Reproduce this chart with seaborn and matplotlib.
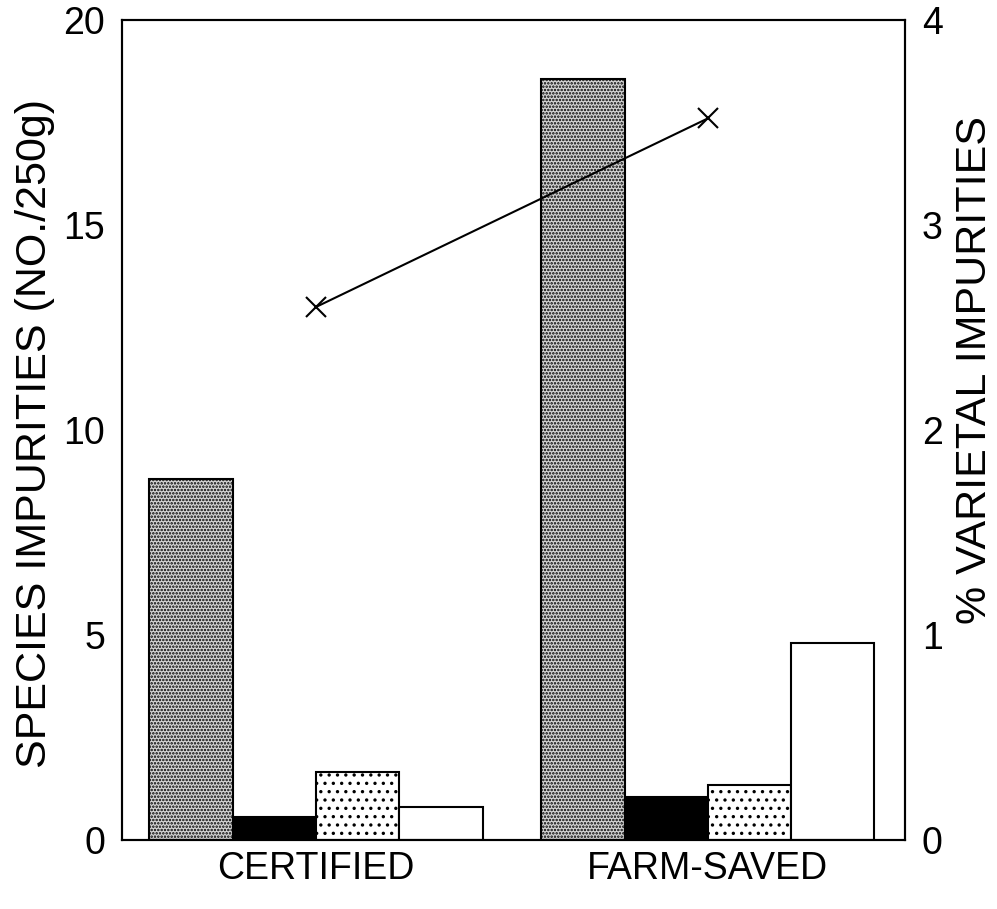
import matplotlib
matplotlib.use("Agg")
import matplotlib.pyplot as plt
import seaborn as sns
import pandas as pd

# Seed lots and impurity classes
lots = ["CERTIFIED", "FARM-SAVED"]
classes = ["A", "B", "C", "D"]

# Species impurities (no./250 g) per class, per lot
certified_species = [8.8, 0.55, 1.65, 0.8]
farm_species = [18.55, 1.05, 1.35, 4.8]

# Varietal impurities (%) per lot
varietal_pct = [2.6, 3.52]

left_ticks = [0, 5, 10, 15, 20]
right_ticks = [0, 1, 2, 3, 4]

df = pd.DataFrame({
    "lot": [lots[0]] * 4 + [lots[1]] * 4,
    "cls": classes * 2,
    "value": certified_species + farm_species,
})

sns.set_theme(style="white")
plt.rcParams["font.family"] = ["Liberation Sans", "DejaVu Sans"]
plt.rcParams["hatch.linewidth"] = 1.2
plt.rcParams["text.color"] = "black"
plt.rcParams["axes.labelcolor"] = "black"
plt.rcParams["xtick.color"] = "black"
plt.rcParams["ytick.color"] = "black"

fig = plt.figure(figsize=(9.97, 9.09), dpi=100)
ax = fig.add_axes([0.1224, 0.076, 0.7853, 0.902])

sns.barplot(data=df, x="lot", y="value", hue="cls", hue_order=classes,
            order=lots, width=0.85, ax=ax, legend=False,
            edgecolor="black", linewidth=1.5, saturation=1)

styles = {
    "A": dict(face="#d4d4d4", hatch="....."),
    "B": dict(face="black", hatch=None),
    "C": dict(face="white", hatch=".."),
    "D": dict(face="white", hatch=None),
}
for cont, cls in zip(ax.containers, classes):
    for bar in cont:
        bar.set_facecolor(styles[cls]["face"])
        bar.set_edgecolor("black")
        if styles[cls]["hatch"]:
            bar.set_hatch(styles[cls]["hatch"])

ax.set_xlim(-0.495, 1.503)
ax.set_ylim(0, 20)
ax.set_yticks(left_ticks)
ax.set_yticklabels([str(t) for t in left_ticks])
ax.set_xlabel("")
ax.set_ylabel("SPECIES IMPURITIES (NO./250g)", fontsize=31)
ax.yaxis.set_label_coords(-0.086, 0.496)
ax.tick_params(axis="both", length=0, labelsize=27, pad=12)
ax.tick_params(axis="x", pad=8)

ax2 = ax.twinx()
sns.lineplot(x=[0, 1], y=varietal_pct, ax=ax2, color="black", linewidth=1.5,
             marker="x", markersize=14, markeredgewidth=1.5,
             markeredgecolor="black")
ax2.set_ylim(0, 4)
ax2.set_xlim(-0.495, 1.503)
ax2.set_yticks(right_ticks)
ax2.set_yticklabels([str(t) for t in right_ticks])
ax2.set_ylabel("% VARIETAL IMPURITIES", fontsize=31)
ax2.yaxis.set_label_coords(1.064, 0.573)
ax2.tick_params(axis="y", length=0, labelsize=27, pad=12)

for a in (ax, ax2):
    for s in a.spines.values():
        s.set_color("black")
        s.set_linewidth(1.5)
        s.set_visible(True)

fig.savefig("out.png", dpi=100)
